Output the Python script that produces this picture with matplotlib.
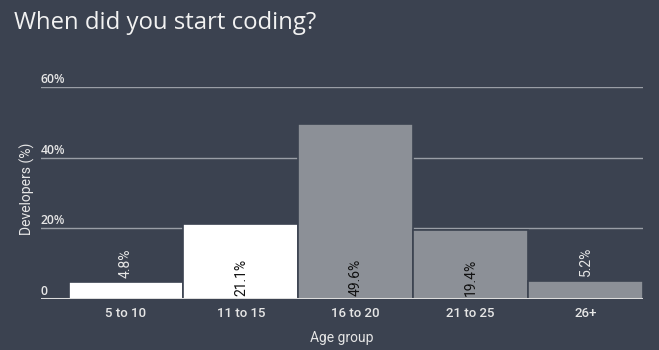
import matplotlib.pyplot as plt
import matplotlib.transforms as mtransforms

age_groups = ["5 to 10", "11 to 15", "16 to 20", "21 to 25", "26+"]
share = [4.8, 21.1, 49.6, 19.4, 5.2]
y_ticks = [0, 20, 40, 60]
y_tick_labels = ["0", "20%", "40%", "60%"]

bg = "#3b4250"
light = "#e6e6e6"
bar_colors = ["#ffffff", "#ffffff", "#8c9097", "#8c9097", "#8c9097"]

fig = plt.figure(figsize=(6.59, 3.5), dpi=100, facecolor=bg)
ax = fig.add_axes([0.0622, 0.1457, 0.9135, 0.6057], facecolor=bg)

x = list(range(len(age_groups)))
ax.bar(x, share, width=1.0, color=bar_colors, edgecolor=bg, linewidth=1.2, zorder=2)

ax.set_xlim(-0.74, 4.5)
ax.set_ylim(0, 60)

# gridlines and tick labels drawn inside the plot
trans = mtransforms.blended_transform_factory(ax.transAxes, ax.transData)
for t, lab in zip(y_ticks, y_tick_labels):
    if t == 0:
        ax.axhline(0, color="#dcdcdc", lw=2.2, zorder=3)
    else:
        ax.axhline(t, color="#9a9ea6", lw=1, zorder=1)
    ax.text(0.0, t + 0.3, lab, transform=trans, color=light, fontsize=8.8,
            fontweight="semibold", family="Open Sans", ha="left", va="bottom")

# value labels
for xi, v in zip(x, share):
    if v > 12:
        ax.text(xi, 0.8, f"{v}%", rotation=90, ha="center", va="bottom", fontsize=10,
                family="Roboto", color="#111111", zorder=4)
    else:
        ax.text(xi, v + 1.2, f"{v}%", rotation=90, ha="center", va="bottom", fontsize=10,
                family="Roboto", color=light, zorder=4)

ax.set_xticks(x)
ax.set_xticklabels(age_groups, fontsize=9.5, family="Roboto", fontweight="medium", color=light)
ax.tick_params(axis="x", length=0, pad=6)
ax.set_yticks([])
for s in ax.spines.values():
    s.set_visible(False)

ax.set_xlabel("Age group", fontsize=10, family="Roboto", color=light, labelpad=8)
fig.text(0.041, 0.46, "Developers (%)", rotation=90, ha="center", va="center",
         fontsize=10, family="Roboto", color=light)

fig.text(0.021, 0.935, "When did you start coding?", fontsize=17.2, family="Open Sans",
         color="#f2f2f2", ha="left", va="center")

fig.savefig("out.png", dpi=100, facecolor=bg)
